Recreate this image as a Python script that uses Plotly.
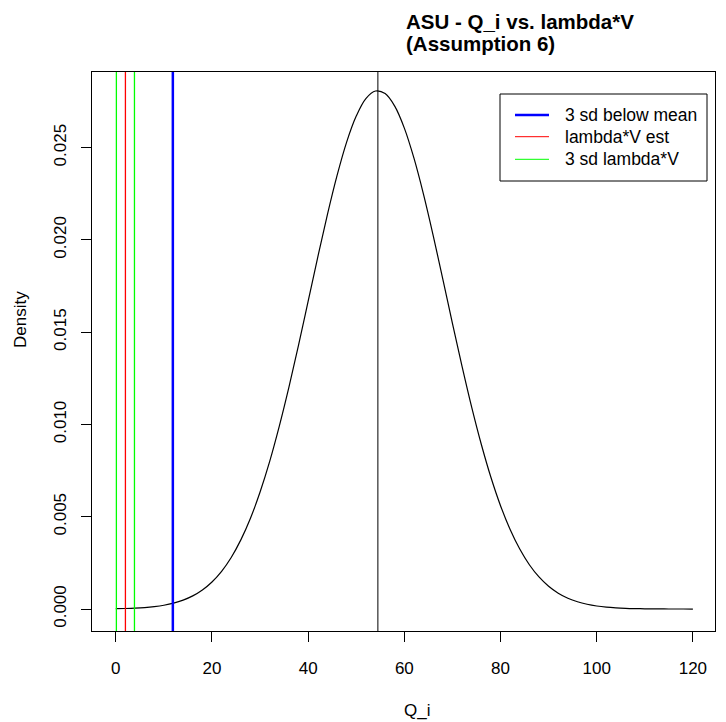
import plotly.graph_objects as go

# ---- data ----
q_x = list(range(0, 121, 2))
density_y = [
    1.8e-5, 3.0e-5, 5.0e-5, 8.2e-5, 1.32e-4, 2.07e-4, 3.18e-4, 4.81e-4, 7.12e-4, 1.033e-3,
    1.468e-3, 2.045e-3, 2.795e-3, 3.747e-3, 4.92e-3, 6.34e-3, 8.00e-3, 9.91e-3, 1.202e-2, 1.430e-2,
    1.668e-2, 1.907e-2, 2.137e-2, 2.348e-2, 2.530e-2, 2.671e-2, 2.766e-2, 2.807e-2, 2.793e-2, 2.725e-2,
    2.606e-2, 2.443e-2, 2.246e-2, 2.024e-2, 1.788e-2, 1.548e-2, 1.315e-2, 1.094e-2, 8.93e-3, 7.14e-3,
    5.60e-3, 4.31e-3, 3.25e-3, 2.40e-3, 1.738e-3, 1.234e-3, 8.59e-4, 5.87e-4, 3.93e-4, 2.58e-4,
    1.66e-4, 1.04e-4, 6.5e-5, 3.9e-5, 2.3e-5, 1.4e-5, 7.7e-6, 4.3e-6, 2.4e-6, 1.3e-6, 7e-7,
]
mean_line = 54.5
sd3_below_mean = 11.86
lambdaV_est = 2.0
lambdaV_3sd = [0.12, 3.88]

x_ticks = [0, 20, 40, 60, 80, 100, 120]
y_ticks = [0.0, 0.005, 0.010, 0.015, 0.020, 0.025]
y_ticklabels = ["0.000", "0.005", "0.010", "0.015", "0.020", "0.025"]

title_lines = ["ASU - Q_i vs. lambda*V", "(Assumption 6)"]
legend_labels = ["3 sd below mean", "lambda*V est", "3 sd lambda*V"]
legend_colors = ["#0000ff", "#ff0000", "#00ff00"]
legend_widths = [2.5, 1, 1]

# ---- layout geometry (pixels) ----
W, H = 726, 722
L, R, T, B = 92, 11, 72, 91
PW, PH = W - L - R, H - T - B
FONT = "Liberation Sans, Arial, Helvetica, sans-serif"


def px(xp):
    return (xp - L) / PW


def py(yp):
    return 1 - (yp - T) / PH


fig = go.Figure()
fig.add_trace(go.Scatter(x=q_x, y=density_y, mode="lines", line=dict(color="black", width=1.2, shape="spline"),
                         showlegend=False, hoverinfo="skip"))

shapes = []
# vertical reference lines (abline style)
shapes.append(dict(type="line", xref="x", yref="paper", x0=mean_line, x1=mean_line, y0=0, y1=1,
                   line=dict(color="black", width=1)))
for v in lambdaV_3sd:
    shapes.append(dict(type="line", xref="x", yref="paper", x0=v, x1=v, y0=0, y1=1,
                       line=dict(color=legend_colors[2], width=1.3)))
shapes.append(dict(type="line", xref="x", yref="paper", x0=lambdaV_est, x1=lambdaV_est, y0=0, y1=1,
                   line=dict(color=legend_colors[1], width=1.3)))
shapes.append(dict(type="line", xref="x", yref="paper", x0=sd3_below_mean, x1=sd3_below_mean, y0=0, y1=1,
                   line=dict(color=legend_colors[0], width=2.5)))

# legend box
shapes.append(dict(type="rect", xref="paper", yref="paper", x0=px(500), x1=px(707), y0=py(94), y1=py(181),
                   line=dict(color="black", width=1), fillcolor="white"))
annotations = []
legend_y = [115, 136.7, 159.3]
for lab, col, wd, ly in zip(legend_labels, legend_colors, legend_widths, legend_y):
    shapes.append(dict(type="line", xref="paper", yref="paper", x0=px(515), x1=px(549), y0=py(ly), y1=py(ly),
                       line=dict(color=col, width=wd)))
    annotations.append(dict(text=lab, xref="paper", yref="paper", x=px(563), y=py(ly), xanchor="left",
                            yanchor="middle", showarrow=False, font=dict(family=FONT, size=17.5, color="black")))

# title
for i, t in enumerate(title_lines):
    annotations.append(dict(text="<b>%s</b>" % t, xref="paper", yref="paper", x=px(404), y=py(21.7 + 21.6 * i),
                            xanchor="left", yanchor="middle", showarrow=False,
                            font=dict(family=FONT, size=20.5, color="black")))
# axis titles
annotations.append(dict(text="Q_i", xref="paper", yref="paper", x=px(416.7), y=py(710), xanchor="center",
                        yanchor="middle", showarrow=False, font=dict(family=FONT, size=17, color="black")))
annotations.append(dict(text="Density", xref="paper", yref="paper", x=px(20), y=py(320), xanchor="center",
                        yanchor="middle", textangle=-90, showarrow=False,
                        font=dict(family=FONT, size=17, color="black")))

fig.update_layout(
    width=W, height=H, margin=dict(l=L, r=R, t=T, b=B, pad=0),
    paper_bgcolor="white", plot_bgcolor="white",
    shapes=shapes, annotations=annotations, showlegend=False,
    font=dict(family=FONT, size=17, color="black"),
)
fig.update_xaxes(range=[-4.95, 124.6], tickvals=x_ticks, ticks="outside", ticklen=10, tickcolor="black",
                 showline=True, mirror=True, linecolor="black", linewidth=1, showgrid=False, zeroline=False,
                 tickfont=dict(family=FONT, size=17), ticklabelstandoff=12)
fig.update_yaxes(range=[-0.00119, 0.0291], tickvals=y_ticks, ticktext=y_ticklabels, tickangle=-90,
                 ticks="outside", ticklen=10, tickcolor="black", showline=True, mirror=True, linecolor="black",
                 linewidth=1, showgrid=False, zeroline=False, tickfont=dict(family=FONT, size=17),
                 ticklabelstandoff=8)

fig.write_html("out.html")
